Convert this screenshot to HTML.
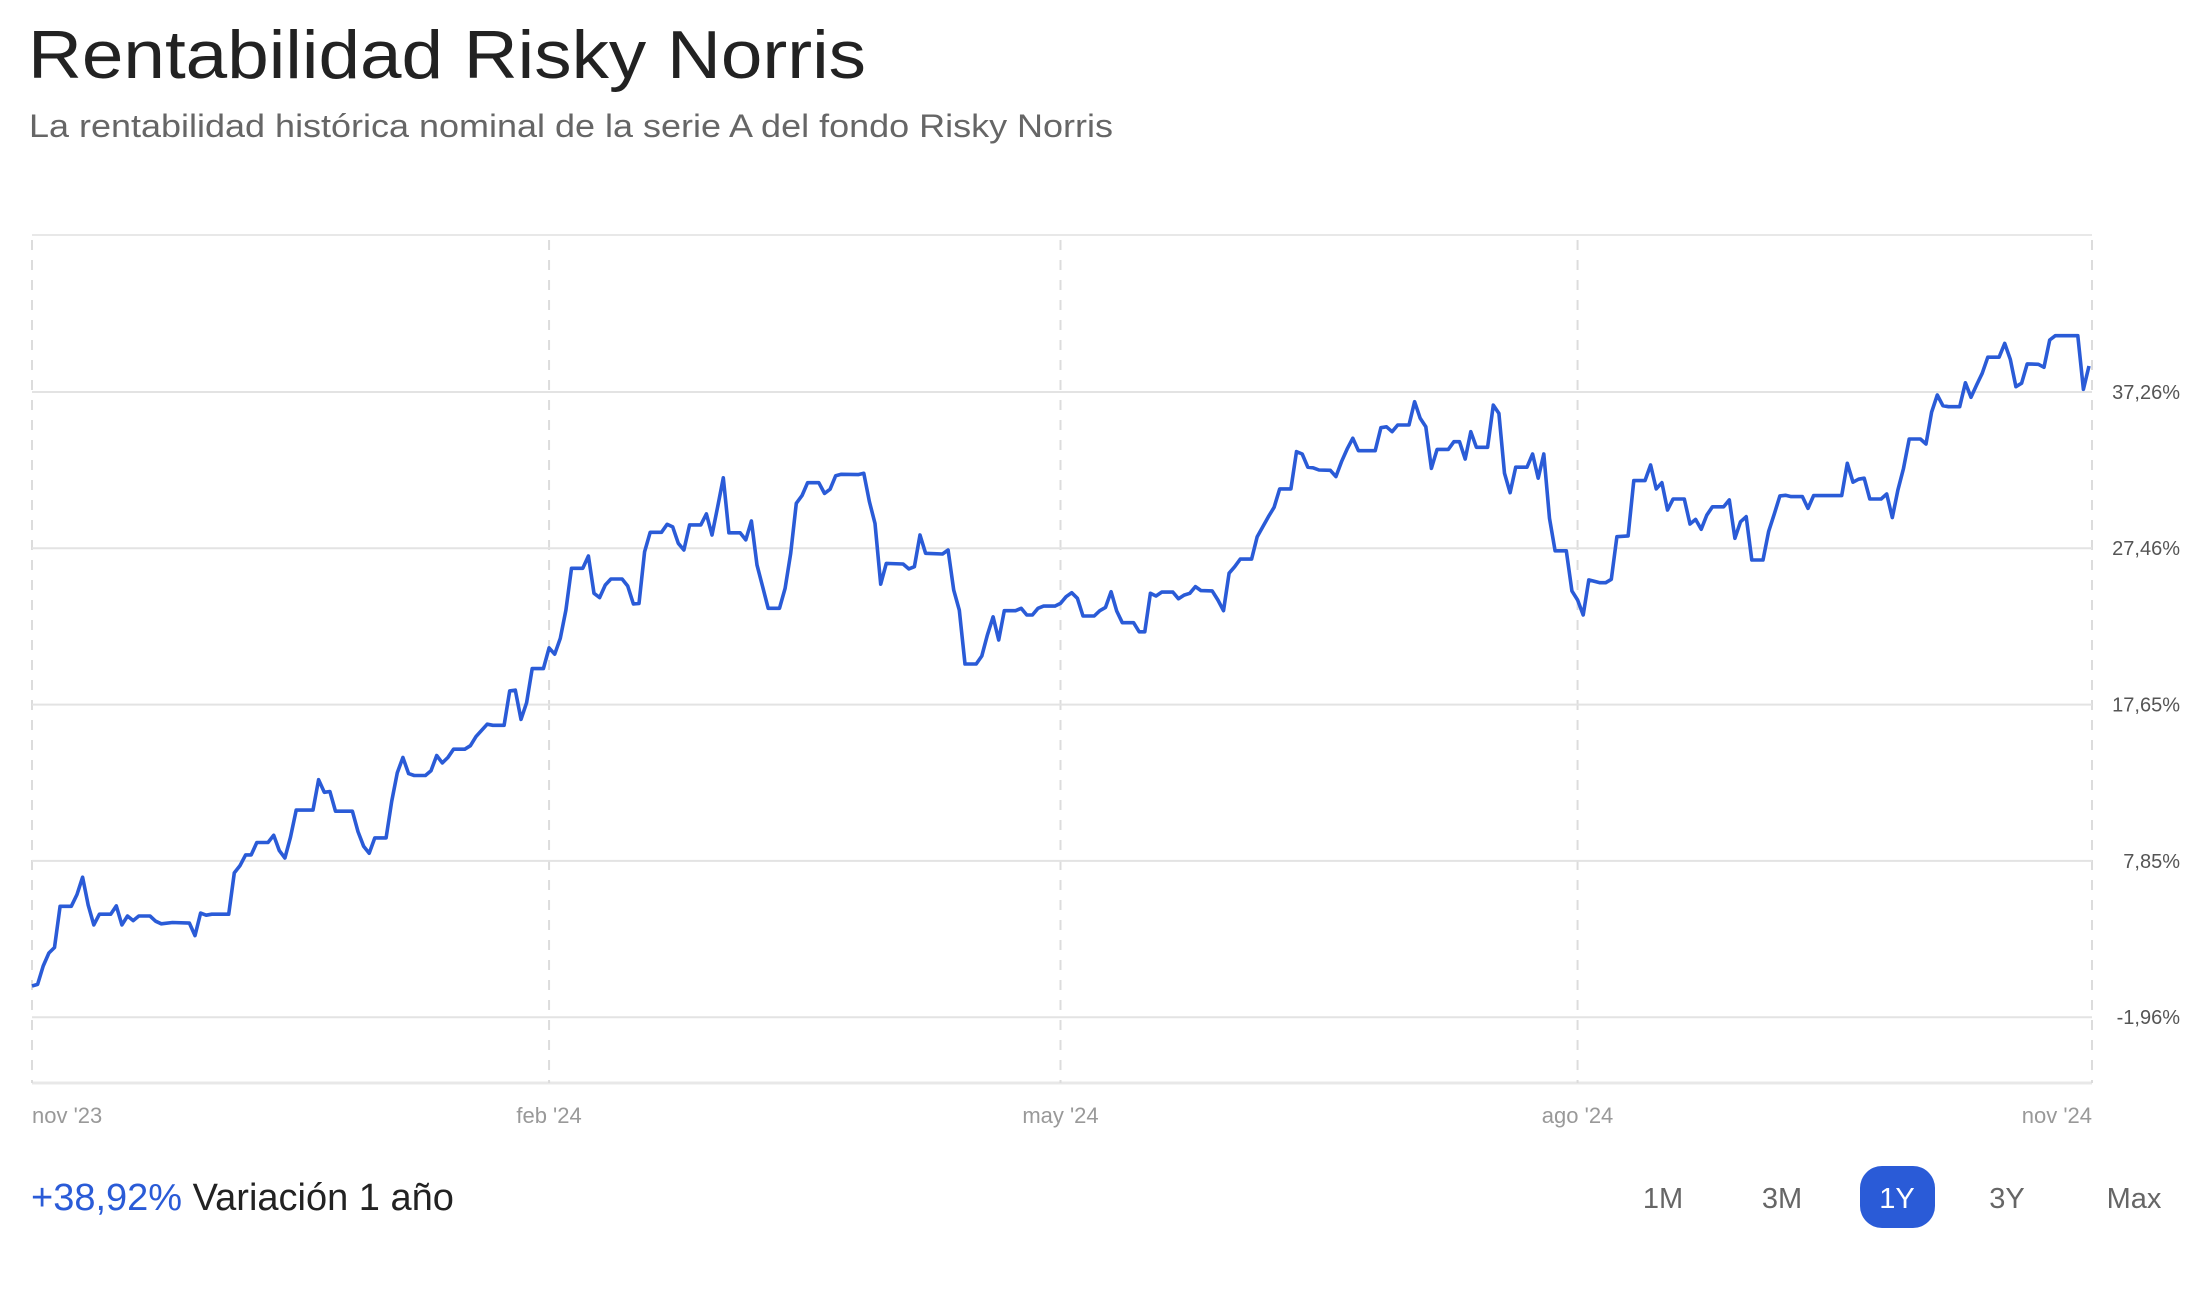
<!DOCTYPE html>
<html><head><meta charset="utf-8"><style>
html,body{margin:0;padding:0;background:#fff;}
svg{display:block;font-family:"Liberation Sans",sans-serif;}
</style></head><body>
<svg id="chart" width="2210" height="1302" viewBox="0 0 2210 1302" xmlns="http://www.w3.org/2000/svg">
<text x="28" y="78" font-size="68" fill="#222" textLength="838" lengthAdjust="spacingAndGlyphs">Rentabilidad Risky Norris</text>
<text x="29" y="137" font-size="32" fill="#666" textLength="1084" lengthAdjust="spacingAndGlyphs">La rentabilidad histórica nominal de la serie A del fondo Risky Norris</text>
<g id="grid"></g>
<g id="xaxis"></g>
<g id="yaxis"></g>
<path id="line" fill="none" stroke="#2a5bd7" stroke-width="3.6" stroke-linejoin="round"></path>
<text x="31" y="1210" font-size="38"><tspan fill="#2a5bd7">+38,92%</tspan><tspan fill="#222"> Variación 1 año</tspan></text>
<g><text x="1663" y="1208" font-size="29" fill="#666" text-anchor="middle">1M</text></g>
<g><text x="1782" y="1208" font-size="29" fill="#666" text-anchor="middle">3M</text></g>
<g><rect x="1860" y="1166" width="75" height="62" rx="22" fill="#2a5bd7"/><text x="1897" y="1208" font-size="29" fill="#fff" text-anchor="middle">1Y</text></g>
<g><text x="2007" y="1208" font-size="29" fill="#666" text-anchor="middle">3Y</text></g>
<g><text x="2134" y="1208" font-size="29" fill="#666" text-anchor="middle">Max</text></g>
</svg>
<script>
const days = [0,1,2,3,4,5,7,8,9,10,11,12,14,15,16,17,18,19,21,22,23,25,28,29,30,31,32,35,36,37,38,39,40,42,43,44,45,46,47,50,51,52,53,54,57,58,59,60,61,63,64,65,66,67,68,70,71,72,73,74,75,77,78,79,81,82,84,85,86,87,88,89,91,92,93,
94,95,96,98,99,100,101,102,103,105,106,107,108,109,110,112,113,114,115,116,117,119,120,121,122,123,124,126,127,128,129,130,131,133,134,135,136,137,138,140,141,142,143,144,147,148,149,150,151,152,155,156,157,158,159,162,163,164,165,166,168,169,170,171,172,173,175,176,177,178,179,180,182,183,184,185,
186,187,189,190,191,192,193,194,196,197,198,199,200,201,203,204,205,206,207,208,210,211,212,213,214,215,217,218,219,220,221,222,224,225,226,227,228,229,231,232,233,234,235,236,239,240,241,242,243,245,246,247,248,249,250,252,253,254,255,256,257,259,260,261,262,263,264,266,267,268,269,270,271,273,274,275,276,277,279,
280,281,282,284,285,287,288,289,290,291,292,294,295,296,297,298,299,301,302,303,304,305,306,308,309,310,311,312,313,315,316,317,322,323,324,325,326,327,329,330,331,332,333,334,336,337,338,339,340,341,343,344,345,346,347,348,350,351,352,353,354,355,357,358,359,360,364,365,366];
const returns = [0.0,0.1,1.25,2.07,2.41,5.0,5.0,5.74,6.82,5.07,3.83,4.5,4.5,5.02,3.83,4.39,4.1,4.39,4.39,4.06,3.9,3.98,3.94,3.16,4.57,4.44,4.5,4.5,7.09,7.54,8.22,8.22,9.0,9.0,9.45,8.49,8.03,9.34,11.03,11.03,12.94,12.15,12.2,10.96,10.96,9.68,8.77,8.33,9.29,9.29,11.58,13.38,14.33,13.32,13.2,13.2,13.5,14.46,13.99,14.33,14.85,14.85,15.07,15.64,16.42,16.35,16.35,18.51,18.56,16.72,17.77,19.91,19.91,21.21,20.81,
21.81,23.58,26.2,26.2,26.97,24.63,24.36,25.15,25.53,25.53,25.09,23.96,24.0,27.24,28.46,28.46,28.96,28.8,27.77,27.35,28.92,28.92,29.61,28.29,30.07,31.88,28.43,28.43,27.98,29.17,26.41,25.05,23.69,23.69,24.94,27.14,30.28,30.76,31.57,31.57,30.9,31.16,32.01,32.1,32.08,32.16,30.38,29.02,25.2,26.51,26.47,26.16,26.3,28.29,27.14,27.1,27.35,24.84,23.58,20.2,20.2,20.7,22.02,23.16,21.7,23.54,23.54,23.69,23.27,23.27,23.69,23.83,23.83,24.0,24.42,24.67,
24.32,23.21,23.21,23.54,23.75,24.73,23.52,22.79,22.79,22.22,22.22,24.63,24.46,24.71,24.71,24.29,24.52,24.63,25.05,24.8,24.78,24.21,23.54,25.89,26.3,26.78,26.78,28.18,28.81,29.44,30.03,31.18,31.18,33.52,33.37,32.54,32.5,32.37,32.35,31.95,32.89,33.68,34.36,33.58,33.58,35.02,35.08,34.77,35.19,35.19,36.65,35.61,35.08,32.47,33.66,33.66,34.14,34.14,33.06,34.77,33.79,33.79,36.44,35.92,32.16,30.94,32.54,32.54,33.37,31.85,33.37,29.34,27.3,27.3,24.78,24.21,23.27,25.47,25.3,
25.3,25.51,28.18,28.23,31.7,31.7,32.68,31.18,31.57,29.86,30.55,30.55,28.98,29.27,28.65,29.54,30.06,30.06,30.49,28.08,29.12,29.44,26.72,26.72,28.5,29.61,30.74,30.78,30.7,30.7,29.96,30.76,30.76,32.79,31.6,31.79,31.85,30.55,30.55,30.86,29.38,31.11,32.47,34.31,34.31,34.0,35.99,37.07,36.4,36.34,36.34,37.84,36.93,37.7,38.43,39.44,39.44,40.31,39.31,37.59,37.81,39.02,39.0,38.81,40.52,40.79,40.79,37.43,38.89];
const yTicks = [37.26,27.46,17.65,7.85,-1.96];
const yTickLabels = ["37,26%","27,46%","17,65%","7,85%","-1,96%"];
const xTickDays = [0,92,183,275,366];
const xTickLabels = ["nov '23","feb '24","may '24","ago '24","nov '24"];

const NS = "http://www.w3.org/2000/svg";
const X0 = 32, X1 = 2092, TOP = 235, BOT = 1083;
function xScale(d){ return X0 + d / 366 * (2089 - X0); }
function yScale(v){ return 392 + (37.26 - v) / 9.805 * 156.3; }
function mk(tag, attrs, parent){ const e = document.createElementNS(NS, tag); for (const k in attrs) e.setAttribute(k, attrs[k]); parent.appendChild(e); return e; }

const grid = document.getElementById('grid');
let b = mk('line', {x1:X0, x2:X1, y1:TOP, y2:TOP, stroke:'#e8e8e8', 'stroke-width':2}, grid);


b = mk('line', {x1:X0, x2:X1, y1:BOT, y2:BOT, stroke:'#e8e8e8', 'stroke-width':3}, grid);



xTickDays.forEach((d, i) => {
  const x = i === xTickDays.length - 1 ? X1 : xScale(d);
  const l = mk('line', {x1:x, x2:x, y1:TOP + 5, y2:BOT, stroke:'#dcdcdc', 'stroke-width':2, 'stroke-dasharray':'10 10'}, grid);
  
  
  const anchor = i === 0 ? 'start' : (i === xTickDays.length - 1 ? 'end' : 'middle');
  const t = mk('text', {x:x, y:1123, 'font-size':22, fill:'#999', 'text-anchor':anchor}, document.getElementById('xaxis'));
  t.textContent = xTickLabels[i];
  
  
});

yTicks.forEach((v, i) => {
  const y = yScale(v);
  const l = mk('line', {x1:X0, x2:X1, y1:y, y2:y, stroke:'#e3e3e3', 'stroke-width':2}, grid);
  
  
  const t = mk('text', {x:2180, y:y + 7, 'font-size':20, fill:'#555', 'text-anchor':'end'}, document.getElementById('yaxis'));
  t.textContent = yTickLabels[i];
  
  
});

let dstr = '';
returns.forEach((v, i) => { dstr += (i ? 'L' : 'M') + xScale(days[i]).toFixed(1) + ',' + yScale(v).toFixed(1); });
document.getElementById('line').setAttribute('d', dstr);
</script>
</body></html>
